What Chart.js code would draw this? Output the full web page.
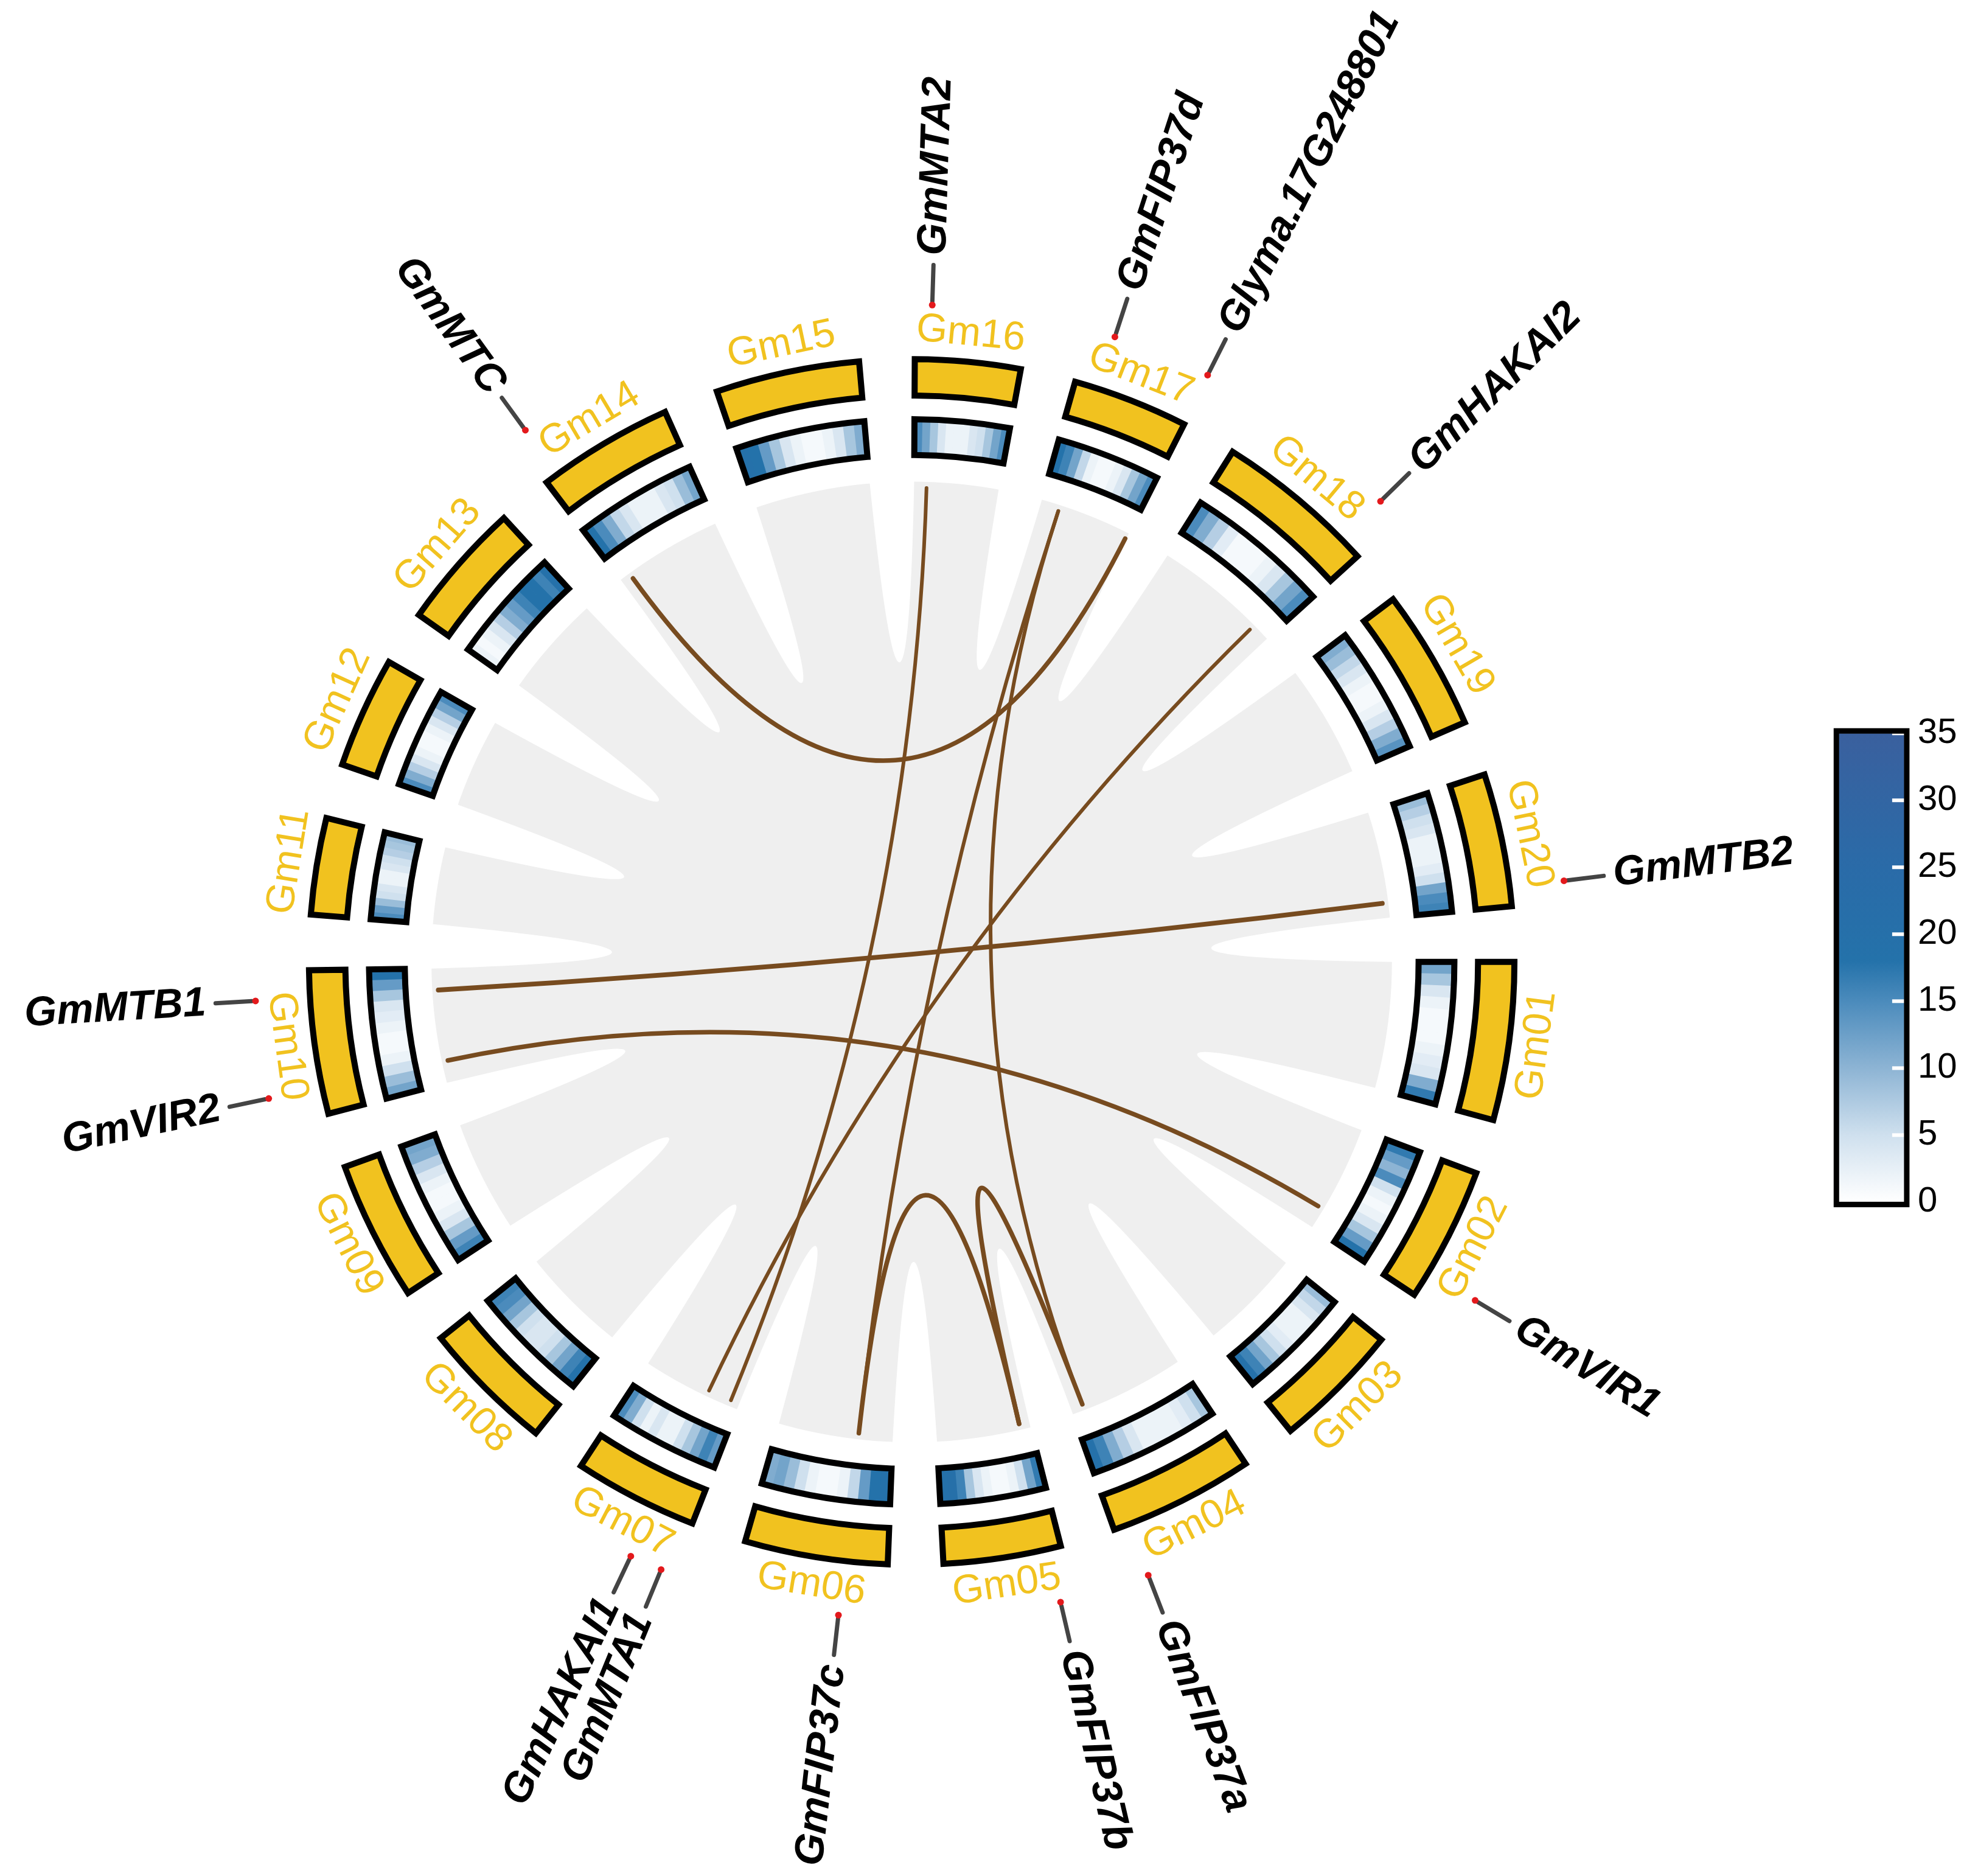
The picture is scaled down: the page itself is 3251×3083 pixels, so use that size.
<!DOCTYPE html>
<html>
<head>
<meta charset="utf-8">
<script src="https://cdn.jsdelivr.net/npm/chart.js@4.4.0/dist/chart.umd.min.js"></script>
<style>
    html, body { margin: 0; padding: 0; background: #ffffff; }
    #wrap { width: 3251px; height: 3083px; }
</style>
</head>
<body>
<div id="wrap"><canvas id="myChart"></canvas></div>
<script>
// soybean chromosomes (Mb)
const chromosomes = ["Gm01", "Gm02", "Gm03", "Gm04", "Gm05", "Gm06", "Gm07", "Gm08", "Gm09", "Gm10",
    "Gm11", "Gm12", "Gm13", "Gm14", "Gm15", "Gm16", "Gm17", "Gm18", "Gm19", "Gm20"];
const chromosomeLengths = [56.83, 48.58, 45.78, 52.39, 42.23, 51.42, 44.63, 47.84, 50.19, 51.57,
    34.77, 40.09, 45.87, 49.04, 51.76, 37.89, 41.64, 58.02, 50.75, 47.90];

// labelled genes
const geneNames = ["GmVIR1", "GmFIP37a", "GmFIP37b", "GmFIP37c", "GmMTA1", "GmHAKAI1", "GmVIR2", "GmMTB1",
    "GmMTC", "GmMTA2", "GmFIP37d", "Glyma.17G248801", "GmHAKAI2", "GmMTB2"];
const geneChromosomes = ["Gm02", "Gm04", "Gm05", "Gm06", "Gm07", "Gm07", "Gm10", "Gm10",
    "Gm14", "Gm16", "Gm17", "Gm17", "Gm18", "Gm20"];
const genePositions = [39.2, 46.9, 4.6, 15.4, 4.0, 14.8, 9.7, 41.8, 4.8, 5.6, 8.5, 41.2, 49.8, 41.2];

// duplicated gene pairs
const linkFrom = ["GmMTB1", "GmVIR2", "GmMTC", "GmHAKAI1", "GmMTA1", "GmFIP37c", "GmFIP37a", "GmFIP37c", "GmFIP37b"];
const linkTo = ["GmMTB2", "GmVIR1", "Glyma.17G248801", "GmHAKAI2", "GmMTA2", "GmFIP37d", "GmFIP37d", "GmFIP37b", "GmFIP37a"];

// gene density, 12 bins per chromosome (start -> end)
const densityBins = [
    [12, 8, 4, 2, 1, 1, 1, 2, 3, 4, 11, 17],
    [17, 13, 10, 15, 5, 2, 1, 2, 4, 8, 13, 18],
    [9, 6, 4, 2, 2, 2, 3, 5, 8, 12, 16, 19],
    [8, 5, 3, 2, 2, 2, 2, 4, 7, 11, 16, 19],
    [17, 12, 5, 2, 1, 1, 2, 4, 8, 16, 20, 19],
    [19, 18, 13, 6, 2, 1, 1, 2, 5, 9, 12, 11],
    [13, 16, 12, 8, 5, 2, 2, 4, 2, 5, 11, 15],
    [18, 16, 12, 8, 5, 4, 4, 5, 8, 12, 15, 16],
    [16, 13, 8, 4, 2, 1, 1, 2, 4, 7, 11, 12],
    [12, 9, 5, 2, 1, 1, 2, 3, 4, 8, 13, 18],
    [15, 13, 9, 5, 4, 2, 2, 4, 5, 7, 8, 9],
    [15, 11, 7, 4, 2, 1, 1, 2, 4, 7, 12, 15],
    [2, 1, 2, 4, 7, 11, 13, 16, 18, 18, 16, 19],
    [18, 15, 11, 6, 4, 2, 2, 2, 4, 5, 9, 12],
    [19, 18, 13, 8, 4, 2, 1, 1, 2, 4, 8, 11],
    [15, 12, 8, 4, 2, 2, 2, 4, 5, 8, 12, 15],
    [18, 16, 12, 6, 2, 1, 1, 2, 4, 8, 12, 15],
    [15, 11, 7, 3, 1, 1, 1, 2, 4, 8, 12, 15],
    [11, 9, 6, 4, 2, 1, 1, 2, 4, 7, 11, 14],
    [9, 7, 5, 4, 2, 2, 2, 3, 5, 12, 15, 16],
];
const densityTicks = [0, 5, 10, 15, 20, 25, 30, 35];

// layout
const W = 3251, H = 3083, CX = 1498, CY = 1581;
const GAP = 5.3;
const R = {
    gray: 792, link: 782, heatIn: 836, heatOut: 895, chrIn: 934, chrOut: 994,
    chrLabel: 1040, dot: 1084, tickIn: 1090, tickOut: 1150, geneLabel: 1166,
};
const linkWidths = [8, 7.5, 7.5, 6, 6, 6, 6, 7.5, 7.5];
const YELLOW = "#F1C21F";
const colorStops = [
    [0, [255, 255, 255]], [5, [207, 224, 238]], [10, [141, 180, 212]], [15, [75, 139, 188]],
    [18, [36, 114, 170]], [25, [42, 107, 168]], [35, [58, 96, 158]],
];

const degPerMb = (360 - GAP * chromosomes.length) / chromosomeLengths.reduce((a, b) => a + b, 0);
const chrStart = [];
let acc = 0;
chromosomeLengths.forEach((len) => {
    chrStart.push(acc);
    acc += len * degPerMb + GAP;
});
const chrEnd = chrStart.map((s, i) => s + chromosomeLengths[i] * degPerMb);

function geneAngle(name) {
    const i = geneNames.indexOf(name);
    return chrStart[chromosomes.indexOf(geneChromosomes[i])] + genePositions[i] * degPerMb;
}
const rad = (d) => (d * Math.PI) / 180;
const polar = (r, d) => ({ x: r * Math.cos(rad(d)), y: -r * Math.sin(rad(d)) });

function densityColor(v) {
    for (let i = 1; i < colorStops.length; i++) {
        if (v <= colorStops[i][0]) {
            const [v0, c0] = colorStops[i - 1];
            const [v1, c1] = colorStops[i];
            const t = (v - v0) / (v1 - v0);
            const c = c0.map((x, k) => Math.round(x + (c1[k] - x) * t));
            return "rgb(" + c.join(",") + ")";
        }
    }
    return "rgb(" + colorStops[colorStops.length - 1][1].join(",") + ")";
}

const circosPlugin = {
    id: "circos",
    beforeDatasetsDraw(chart) {
        const ctx = chart.ctx;
        const xs = chart.scales.x;
        const ys = chart.scales.y;
        const px = (r, d) => {
            const p = polar(r, d);
            return { x: xs.getPixelForValue(p.x), y: ys.getPixelForValue(p.y) };
        };
        const c = { x: xs.getPixelForValue(0), y: ys.getPixelForValue(0) };
        const rp = (r) => xs.getPixelForValue(r) - c.x;

        function band(r0, r1, a0, a1) {
            ctx.beginPath();
            ctx.arc(c.x, c.y, rp(r1), rad(a0), rad(a1));
            ctx.arc(c.x, c.y, rp(r0), rad(a1), rad(a0), true);
            ctx.closePath();
        }

        ctx.save();
        // gray collinearity background
        ctx.fillStyle = "#EFEFEF";
        ctx.beginPath();
        ctx.arc(c.x, c.y, rp(R.gray), 0, Math.PI * 2);
        ctx.fill();
        ctx.fillStyle = "#ffffff";
        chromosomes.forEach((_, i) => {
            const e = chrEnd[i];
            const s = i + 1 < chromosomes.length ? chrStart[i + 1] : 360;
            const a = px(R.gray, e);
            const ctrl = px(R.gray * 0.25, (e + s) / 2);
            const b = px(R.gray, s);
            ctx.beginPath();
            ctx.moveTo(a.x, a.y);
            ctx.quadraticCurveTo(ctrl.x, ctrl.y, b.x, b.y);
            ctx.arc(c.x, c.y, rp(R.gray + 30), rad(s), rad(e), true);
            ctx.closePath();
            ctx.fill();
        });

        // links
        ctx.strokeStyle = "#774B1F";
        ctx.lineCap = "round";
        linkFrom.forEach((g, i) => {
            const a = px(R.link, geneAngle(g));
            const b = px(R.link, geneAngle(linkTo[i]));
            ctx.lineWidth = linkWidths[i];
            ctx.beginPath();
            ctx.moveTo(a.x, a.y);
            ctx.quadraticCurveTo(c.x, c.y, b.x, b.y);
            ctx.stroke();
        });

        // density heatmap track and chromosome track
        ctx.lineJoin = "miter";
        chromosomes.forEach((name, i) => {
            const s = chrStart[i];
            const e = chrEnd[i];
            const bins = densityBins[i];
            const step = (e - s) / bins.length;
            bins.forEach((v, k) => {
                ctx.fillStyle = densityColor(v);
                band(R.heatIn, R.heatOut, s + k * step, s + (k + 1) * step + (k < bins.length - 1 ? 0.05 : 0));
                ctx.fill();
            });
            ctx.lineWidth = 10;
            ctx.strokeStyle = "#000000";
            band(R.heatIn, R.heatOut, s, e);
            ctx.stroke();

            ctx.fillStyle = YELLOW;
            band(R.chrIn, R.chrOut, s, e);
            ctx.fill();
            ctx.stroke();

            // chromosome name
            const mid = (s + e) / 2;
            const p = px(R.chrLabel, mid);
            const top = Math.sin(rad(mid)) < 0;
            ctx.save();
            ctx.translate(p.x, p.y);
            ctx.rotate(rad(top ? mid + 90 : mid - 90));
            ctx.fillStyle = YELLOW;
            ctx.font = '66px "Liberation Sans", Arial, sans-serif';
            ctx.textAlign = "center";
            ctx.textBaseline = "middle";
            ctx.fillText(name, 0, 0);
            ctx.restore();
        });

        // gene ticks and names
        ctx.strokeStyle = "#444444";
        ctx.lineWidth = 7;
        ctx.lineCap = "round";
        geneNames.forEach((g) => {
            const a = geneAngle(g);
            const p0 = px(R.tickIn, a);
            const p1 = px(R.tickOut, a);
            ctx.beginPath();
            ctx.moveTo(p0.x, p0.y);
            ctx.lineTo(p1.x, p1.y);
            ctx.stroke();

            const p = px(R.geneLabel, a);
            const left = Math.cos(rad(a)) < 0;
            ctx.save();
            ctx.translate(p.x, p.y);
            ctx.rotate(rad(left ? a - 180 : a));
            ctx.fillStyle = "#000000";
            ctx.font = 'italic bold 68px "Liberation Sans", Arial, sans-serif';
            ctx.textAlign = left ? "right" : "left";
            ctx.textBaseline = "middle";
            ctx.fillText(g, 0, 0);
            ctx.restore();
        });

        // colour bar
        const bx0 = xs.getPixelForValue(1529), bx1 = xs.getPixelForValue(1637);
        const vmax = densityTicks[densityTicks.length - 1];
        const vy = (v) => ys.getPixelForValue(-396 + (v / vmax) * (377 + 396));
        const grad = ctx.createLinearGradient(0, vy(0), 0, vy(vmax));
        colorStops.forEach(([v, col]) => grad.addColorStop(v / vmax, "rgb(" + col.join(",") + ")"));
        ctx.fillStyle = grad;
        ctx.fillRect(bx0, vy(vmax), bx1 - bx0, vy(0) - vy(vmax));
        ctx.strokeStyle = "#ffffff";
        ctx.lineWidth = 6;
        ctx.lineCap = "butt";
        densityTicks.forEach((t) => {
            if (t === 0) return;
            ctx.beginPath();
            ctx.moveTo(bx1 - 20, vy(t));
            ctx.lineTo(bx1, vy(t));
            ctx.stroke();
        });
        ctx.strokeStyle = "#000000";
        ctx.lineWidth = 9;
        ctx.strokeRect(bx0 - 4, vy(vmax) - 4, bx1 - bx0 + 8, vy(0) - vy(vmax) + 8);
        ctx.fillStyle = "#000000";
        ctx.font = '58px "Liberation Sans", Arial, sans-serif';
        ctx.textAlign = "left";
        ctx.textBaseline = "middle";
        densityTicks.forEach((t) => ctx.fillText(String(t), bx1 + 22, vy(t)));
        ctx.restore();
    },
};

const ctx = document.getElementById("myChart");

new Chart(ctx, {
    type: "scatter",
    data: {
        datasets: [
            {
                label: "genes",
                data: geneNames.map((g) => polar(R.dot, geneAngle(g))),
                backgroundColor: "#E3191C",
                borderWidth: 0,
                pointRadius: 5.5,
            },
        ],
    },
    options: {
        responsive: true,
        maintainAspectRatio: false,
        animation: false,
        devicePixelRatio: 1,
        layout: { padding: 0 },
        plugins: {
            legend: { display: false },
            tooltip: { enabled: false },
        },
        scales: {
            x: { type: "linear", min: -CX, max: W - CX, display: false },
            y: { type: "linear", min: -(H - CY), max: CY, display: false },
        },
    },
    plugins: [circosPlugin],
});
</script>
</body>
</html>
